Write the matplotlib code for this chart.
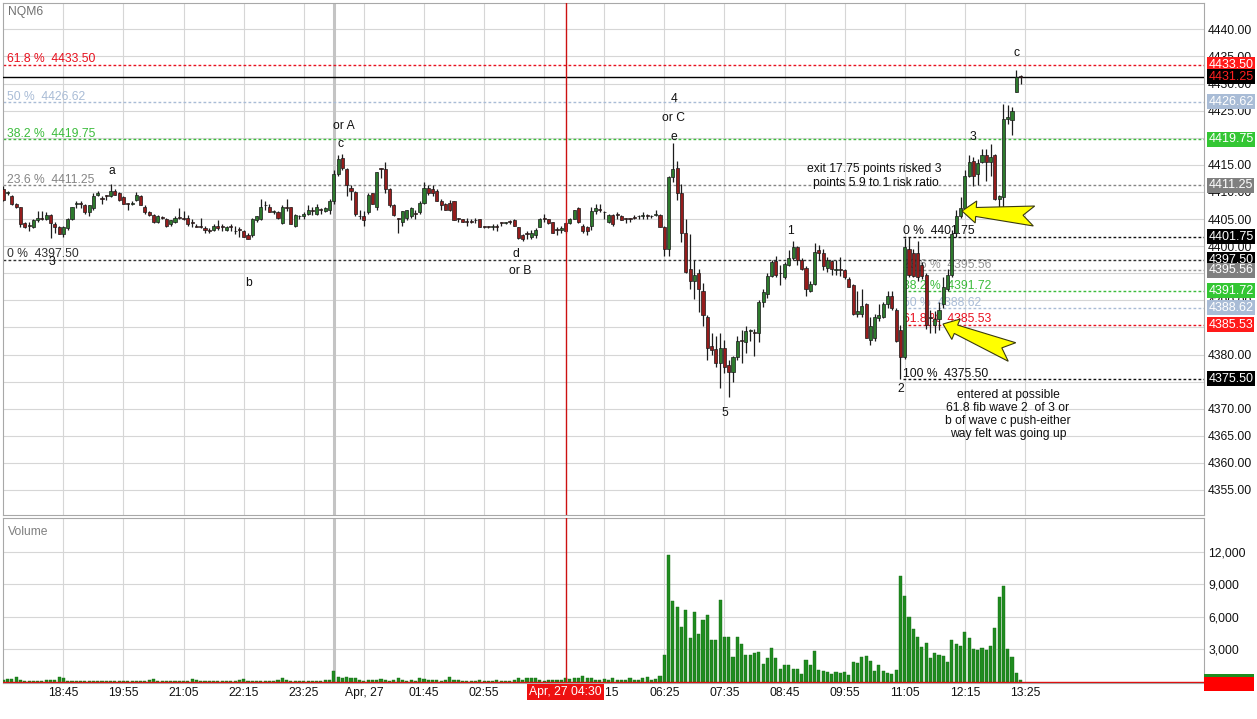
import matplotlib
matplotlib.use("Agg")
import matplotlib.pyplot as plt
from matplotlib.patches import Polygon, Rectangle
import numpy as np

plt.rcParams['font.family'] = ['Liberation Sans', 'DejaVu Sans']

# ---------------- data (5-minute bars, NQM6, 17:35 -> 13:20) ----------------
opens = [
 4410.5, 4409.75, 4409.25, 4407.75, 4407.25, 4404.25, 4403.75, 4403.5, 4404.75, 4405,
 4405, 4405.75, 4404, 4403.5, 4402.25, 4403.25, 4405, 4407.75, 4408, 4407.5,
 4406.25, 4407, 4409.5, 4408.75, 4409.25, 4409.25, 4410.25, 4409.75, 4409, 4407.75,
 4407.75, 4408.5, 4409.25, 4407.25, 4406.25, 4405.75, 4404.5, 4405.25, 4405, 4404,
 4404.5, 4405.25, 4405, 4405.25, 4404.25, 4403.75, 4403.5, 4403.25, 4403, 4403,
 4403.75, 4403.5, 4403, 4403.5, 4402.75, 4403, 4402.75, 4402, 4402, 4404.75,
 4405, 4407.5, 4407.25, 4406.25, 4406.25, 4404.25, 4407.25, 4407.25, 4403.75, 4405.5,
 4405.5, 4406, 4406.5, 4406, 4406.75, 4406.5, 4406.75, 4408.25, 4413.25, 4416.25,
 4414.25, 4410.75, 4410, 4405.5, 4405.5, 4406.25, 4409.75, 4407.25, 4414.25, 4414.25,
 4410.5, 4407.5, 4405, 4404.5, 4405.25, 4405.5, 4406, 4406.25, 4408, 4410.75,
 4410.5, 4410.25, 4408.25, 4407.75, 4408, 4408.25, 4405, 4405, 4404.5, 4404.5,
 4404.75, 4405, 4403.5, 4403.5, 4403.5, 4403.5, 4404.25, 4404.25, 4404.5, 4404.75,
 4403.5, 4402, 4402.25, 4401.75, 4402, 4403.5, 4405, 4405, 4404.5, 4403,
 4403, 4404.25, 4404.25, 4405, 4407, 4403.75, 4403.5, 4403.75, 4406.5, 4406.75,
 4406.25, 4404.5, 4405.75, 4405.75, 4405.5, 4405, 4405, 4405.25, 4405.5, 4405.5,
 4405.75, 4405.5, 4405.75, 4405.75, 4403.5, 4399.5, 4412.75, 4414.5, 4409.75, 4402.5,
 4395.75, 4393.5, 4395, 4391.75, 4387, 4381.5, 4381, 4378.5, 4381.25, 4378,
 4376.75, 4379.5, 4382.5, 4382.25, 4384.25, 4384, 4384, 4389.75, 4391.25, 4394.5,
 4397.25, 4395, 4394.25, 4396.5, 4397.75, 4399.75, 4397.5, 4396, 4391.75, 4393,
 4399.25, 4398.75, 4396, 4397.25, 4395.5, 4395.75, 4395.5, 4394, 4392.75, 4387.5,
 4387.5, 4389.25, 4382.75, 4383, 4386.75, 4387, 4389.25, 4390.75, 4388.25, 4384.5,
 4379.5, 4399.5, 4398.75, 4398.75, 4396.5, 4394.75, 4386.75, 4385.5, 4386.5, 4389.25,
 4392, 4394.75, 4402.5, 4405.5, 4407, 4413, 4415.75, 4413.25, 4415.5, 4416.75,
 4415.5, 4416.75, 4408.75, 4409, 4423.5, 4423.25, 4428.5, 4431.25,
]
highs = [
 4411, 4410.25, 4409.5, 4408, 4407.25, 4404.5, 4404.5, 4405, 4406.5, 4406.5,
 4406.25, 4406, 4404.5, 4403.75, 4403.75, 4405.25, 4407.25, 4408.25, 4408.25, 4407.75,
 4407.5, 4409.75, 4410.25, 4409.25, 4409.5, 4411.5, 4410.5, 4410, 4409.25, 4408,
 4408.25, 4410, 4409.5, 4407.5, 4406.5, 4406, 4405.75, 4405.5, 4405.25, 4404.75,
 4405.5, 4407, 4406.5, 4405.75, 4405, 4404, 4405.25, 4403.75, 4403.25, 4404,
 4404.75, 4404, 4403.75, 4404, 4403.75, 4403.5, 4403, 4402.5, 4405.25, 4405.5,
 4408.75, 4408.25, 4407.75, 4406.75, 4406.5, 4407.5, 4408.75, 4407.25, 4406, 4405.75,
 4406.25, 4407.5, 4407.25, 4407.75, 4407, 4407.25, 4408.75, 4414, 4416.75, 4417,
 4414.5, 4411.25, 4410.25, 4406.75, 4406.5, 4409.75, 4409.75, 4413.75, 4414.5, 4415.5,
 4410.75, 4407.75, 4405.25, 4406.5, 4406.75, 4407.25, 4406.75, 4408.25, 4411.75, 4411.25,
 4411.25, 4410.5, 4408.75, 4408, 4408.5, 4408.25, 4405.25, 4405, 4405.25, 4405,
 4405.25, 4405, 4403.75, 4403.75, 4404, 4404, 4404.5, 4404.5, 4404.75, 4405,
 4403.5, 4402.25, 4402.75, 4403, 4403.25, 4405.25, 4406, 4405, 4404.5, 4403.5,
 4403.75, 4404.5, 4405.25, 4406.75, 4407.25, 4404, 4403.75, 4407.25, 4407.75, 4407.75,
 4406.5, 4406, 4406, 4406.25, 4405.75, 4405.25, 4405.25, 4405.75, 4405.75, 4406.25,
 4406, 4405.75, 4406.75, 4406, 4403.75, 4413, 4419, 4415.75, 4411.5, 4405,
 4402.25, 4397.5, 4395.75, 4393.25, 4387.25, 4384, 4383.5, 4384, 4382.75, 4379,
 4379.75, 4383.5, 4384.5, 4385.25, 4384.75, 4384.75, 4390, 4392, 4395, 4397.5,
 4398.25, 4396.5, 4397, 4399.25, 4401, 4400, 4397.75, 4396.25, 4393.5, 4400.5,
 4400.25, 4399.5, 4398, 4397.5, 4397.5, 4398, 4395.75, 4394.25, 4393, 4391.75,
 4392, 4389.5, 4387, 4387.5, 4389.25, 4389.75, 4391.75, 4391.75, 4388.5, 4385.5,
 4401.5, 4401.75, 4399.5, 4401, 4397, 4395, 4388.25, 4388, 4389.75, 4394.25,
 4395.75, 4403, 4406.75, 4409, 4414, 4416.75, 4416.5, 4416, 4418, 4418,
 4418.75, 4417, 4409.5, 4426.25, 4426, 4425.75, 4432.5, 4431.5,
]
lows = [
 4408.25, 4409.5, 4407.5, 4407, 4403.5, 4403.25, 4402.75, 4403.25, 4404.5, 4404.75,
 4404.75, 4401.5, 4402.5, 4402.25, 4401.75, 4403, 4404.75, 4407, 4407, 4406,
 4405.5, 4406.75, 4409.25, 4407.75, 4408.5, 4409, 4409.5, 4408.25, 4407.75, 4406.75,
 4407.5, 4408.25, 4407.5, 4406, 4405.5, 4404.25, 4404.25, 4405, 4403.5, 4403.75,
 4404.25, 4405, 4404.75, 4403.75, 4403.5, 4403.5, 4403.25, 4402.5, 4402.5, 4402.75,
 4403, 4402.75, 4402.75, 4402.75, 4402.25, 4401.75, 4401.75, 4401.25, 4401.75, 4404.5,
 4404.75, 4406.75, 4406.25, 4406, 4405, 4404, 4406.5, 4404, 4403.5, 4405,
 4405, 4405.75, 4405.75, 4405.75, 4406, 4406.25, 4406, 4407.75, 4413, 4414,
 4409.25, 4408.5, 4405.5, 4405, 4403.75, 4406, 4407.75, 4406.75, 4412.5, 4409.75,
 4407.25, 4405.5, 4402.5, 4403.75, 4404.75, 4405.25, 4405, 4406, 4407.75, 4409.5,
 4409.25, 4408.25, 4406.75, 4406.75, 4406.5, 4404.75, 4404.5, 4404.5, 4403.75, 4404.25,
 4404.25, 4403.5, 4403.25, 4403.25, 4403, 4402.75, 4403.75, 4404, 4404, 4403.75,
 4401.25, 4401, 4401.25, 4401.25, 4401.5, 4403.5, 4404.5, 4404, 4402.5, 4402,
 4402.5, 4402.5, 4404, 4405, 4404.25, 4402.5, 4402, 4403, 4406, 4406.25,
 4405, 4404.25, 4403.75, 4405, 4404.75, 4404.25, 4404.5, 4405, 4405, 4405,
 4405, 4405.25, 4405.5, 4403.5, 4398.25, 4398.25, 4411.75, 4408.5, 4400.75, 4395,
 4392, 4390.25, 4387.75, 4385.25, 4379, 4380, 4377.75, 4373.75, 4376.5, 4372.25,
 4375, 4379, 4378.5, 4380.25, 4382.5, 4379.75, 4382.25, 4388.75, 4390.5, 4394.25,
 4394.25, 4392.75, 4394, 4396.25, 4397.5, 4396.5, 4395.5, 4390.75, 4391.5, 4392.75,
 4397.5, 4395.5, 4395.25, 4394.75, 4394.75, 4394.5, 4394, 4392.5, 4387.25, 4387,
 4387, 4383, 4381.75, 4382.5, 4386.25, 4386.75, 4388.5, 4388.25, 4382.25, 4375.5,
 4379.25, 4394.25, 4394.25, 4393.5, 4394, 4384.75, 4384, 4384, 4384.5, 4388.5,
 4391.75, 4394.25, 4401.75, 4405.25, 4406.75, 4412.75, 4411, 4411.25, 4415.25, 4412,
 4413, 4408.5, 4406.75, 4406.75, 4422.5, 4420.5, 4428.5, 4430,
]
closes = [
 4408.5, 4410, 4407.75, 4407.25, 4404, 4403.5, 4403.75, 4404.75, 4405.25, 4405,
 4405.75, 4404.25, 4403.5, 4402.25, 4403.5, 4405, 4407.25, 4408, 4407.75, 4406.25,
 4407.5, 4409.25, 4409.75, 4408.75, 4409.25, 4410.25, 4409.5, 4408.5, 4407.75, 4407.75,
 4408, 4409.5, 4407.5, 4406.25, 4405.75, 4404.5, 4405.5, 4405.25, 4403.75, 4404.75,
 4405.25, 4405.25, 4405, 4404, 4404.25, 4403.5, 4403.5, 4403, 4402.75, 4403.75,
 4403.25, 4403.5, 4403.5, 4403.5, 4402.75, 4403, 4401.75, 4401.25, 4405, 4405.5,
 4407.25, 4407.5, 4406.25, 4406.5, 4405.25, 4407.25, 4407, 4404, 4405.75, 4405.5,
 4406, 4406.75, 4406.5, 4407.25, 4406.75, 4407, 4408.25, 4413.25, 4416, 4414.5,
 4411.25, 4410.25, 4406, 4405.5, 4404.75, 4409.5, 4407.75, 4413.75, 4414.25, 4410.5,
 4407.5, 4405.75, 4405, 4406.5, 4406.75, 4407, 4406, 4408, 4410.75, 4409.75,
 4409.75, 4408.25, 4407.5, 4406.75, 4406.75, 4404.75, 4405, 4404.5, 4404.5, 4404.5,
 4404.75, 4403.5, 4403.5, 4403.5, 4403.75, 4403.5, 4404.25, 4404.5, 4404.5, 4403.75,
 4401.5, 4401.25, 4402.25, 4402.5, 4403, 4405, 4405, 4404.25, 4402.5, 4403,
 4403.25, 4402.75, 4405, 4406.75, 4404.5, 4402.75, 4402.75, 4406.5, 4407, 4406.75,
 4406.25, 4405.75, 4404, 4405.75, 4404.75, 4405, 4405, 4405.25, 4405.5, 4405.75,
 4405.5, 4405.5, 4406, 4403.5, 4399.5, 4412.75, 4414.25, 4409.75, 4402.5, 4395.25,
 4393.5, 4394.75, 4392, 4387.25, 4381.25, 4380.75, 4378.5, 4381.25, 4377.75, 4376.75,
 4379.5, 4382.5, 4382.5, 4384.25, 4384.5, 4384, 4389.75, 4391.5, 4394.5, 4397,
 4394.75, 4395, 4396.75, 4397.75, 4399.75, 4397.5, 4395.75, 4392, 4393, 4399,
 4398.75, 4396.25, 4397.5, 4395.75, 4395.75, 4395.5, 4394.25, 4392.5, 4387.5, 4388,
 4389, 4383, 4385.25, 4387, 4387.25, 4389.25, 4390.75, 4388.5, 4382.5, 4379.5,
 4399.75, 4394.75, 4394.5, 4394.25, 4394.5, 4385.5, 4386.75, 4386.5, 4388.25, 4392.5,
 4394.75, 4402.25, 4405.5, 4407, 4413, 4415.5, 4413, 4415.25, 4416.75, 4415.5,
 4416.5, 4408.75, 4409.25, 4423.5, 4423.75, 4425, 4431.25, 4431.25,
]
volumes = [
 150, 250, 250, 400, 150, 100, 100, 100, 100, 100,
 150, 150, 200, 400, 350, 100, 100, 100, 100, 100,
 100, 100, 100, 100, 100, 100, 100, 100, 100, 100,
 100, 100, 100, 100, 150, 250, 100, 100, 100, 100,
 100, 100, 100, 100, 250, 150, 100, 100, 100, 100,
 100, 100, 100, 100, 100, 150, 250, 100, 100, 100,
 100, 100, 100, 100, 150, 300, 150, 100, 100, 100,
 100, 100, 100, 100, 100, 150, 200, 950, 450, 300,
 450, 300, 300, 150, 100, 150, 150, 200, 250, 150,
 100, 150, 300, 150, 100, 150, 100, 350, 250, 200,
 150, 150, 100, 150, 450, 200, 150, 100, 100, 100,
 100, 150, 100, 100, 100, 150, 100, 100, 100, 150,
 300, 200, 350, 350, 300, 150, 100, 150, 150, 200,
 150, 300, 250, 350, 300, 550, 300, 300, 150, 200,
 250, 150, 300, 150, 150, 200, 300, 200, 200, 300,
 400, 200, 250, 500, 2500, 11700, 7450, 6900, 5100, 6600,
 4000, 6450, 4400, 5700, 6200, 3850, 3900, 7600, 4100, 4100,
 2300, 4100, 3500, 2500, 2450, 2650, 2750, 1650, 2200, 3100,
 2200, 1200, 1550, 1500, 1200, 1200, 700, 2050, 1500, 2800,
 1050, 1000, 900, 750, 900, 800, 900, 650, 1800, 1700,
 2300, 2350, 1900, 950, 1500, 1000, 800, 750, 1100, 9750,
 7950, 6000, 4850, 4100, 3250, 3550, 2200, 2700, 2500, 2400,
 1800, 3900, 3500, 3350, 4600, 4000, 3000, 2900, 3150, 2900,
 3350, 5000, 7800, 8850, 3000, 2250, 800, 150,
]
time_tick_idx = [14, 28, 42, 56, 70, 84, 98, 112, 126, 140, 154, 168, 182, 196, 210, 224, 238]
time_tick_labels = ['18:45', '19:55', '21:05', '22:15', '23:25', 'Apr, 27', '01:45', '02:55',
                    '04:05', '05:15', '06:25', '07:35', '08:45', '09:55', '11:05', '12:15', '13:25']
price_ticks = [4355, 4360, 4365, 4370, 4375, 4380, 4385, 4390, 4395, 4400,
               4405, 4410, 4415, 4420, 4425, 4430, 4435, 4440]
vol_ticks = [3000, 6000, 9000, 12000]
vol_tick_labels = ['3,000', '6,000', '9,000', '12,000']

# Fibonacci set 1 (full width) and set 2 (from wave-2 swing)
fib1_levels = ['61.8 %', '50 %', '38.2 %', '23.6 %', '0 %']
fib1_values = [4433.50, 4426.62, 4419.75, 4411.25, 4397.50]
fib2_levels = ['0 %', '23.6 %', '38.2 %', '50 %', '61.8 %', '100 %']
fib2_values = [4401.75, 4395.56, 4391.72, 4388.62, 4385.53, 4375.50]
last_price = 4431.25

# ---------------- styling ----------------
W, H = 1257, 719
RED = '#e8101e'
BLUE = '#a9bcd6'
GREEN_F = '#3cbc3c'
GRAY_F = '#858585'
DARK_F = '#303030'
fib1_colors = [RED, BLUE, GREEN_F, GRAY_F, DARK_F]
fib2_colors = ['#111111', '#959595', GREEN_F, BLUE, RED, '#111111']
fib1_box = [('#ff1a1a', 'white'), (BLUE, 'white'), ('#33c633', 'white'), ('#7f7f7f', 'white'), ('#000000', 'white')]
fib2_box = [('#000000', 'white'), ('#7f7f7f', 'white'), ('#33c633', 'white'), (BLUE, 'white'), ('#ff1a1a', 'white'), ('#000000', 'white')]
FS = 8.7
GRID = '#d6d6d6'
SPINE = '#a8a8a8'

fig = plt.figure(figsize=(W / 100, H / 100), dpi=100)
fig.patch.set_facecolor('white')

def fx(px):
    return px / W

def fy(py):
    return 1 - py / H

x0_px, bar_px = 3.3, 4.2924
xmin = (3 - x0_px) / bar_px
xmax = (1204 - x0_px) / bar_px

axp = fig.add_axes([fx(3), fy(515), fx(1204) - fx(3), fy(3) - fy(515)])
axv = fig.add_axes([fx(3), fy(683), fx(1204) - fx(3), fy(518) - fy(683)], sharex=axp)

o = np.array(opens); h = np.array(highs); l = np.array(lows); c = np.array(closes)
x = np.arange(len(o))
up = c > o
body_bot = np.minimum(o, c)
body_h = np.maximum(np.abs(c - o), 0.12)
cols = np.where(up, '#2d7a2d', '#951c1c')

axp.vlines(x, l, h, color='#1c1c1c', lw=0.9, zorder=4)
axp.bar(x, body_h, bottom=body_bot, width=0.72, color=cols, edgecolor='#1a1a1a',
        linewidth=0.5, zorder=5)

axv.bar(np.arange(len(volumes)), volumes, width=0.72, color='#1f8c1f', edgecolor='#176a17',
        linewidth=0.3, zorder=3)

axp.set_xlim(xmin, xmax)
axp.set_ylim(4440 - (515 - 29.3) / 5.42, 4440 + (29.3 - 3) / 5.42)
axv.set_ylim(-120, 15150)

for ax in (axp, axv):
    ax.set_xticks(time_tick_idx)
    ax.grid(True, color=GRID, lw=0.8)
    ax.set_axisbelow(True)
    for s in ax.spines.values():
        s.set_color(SPINE)
        s.set_linewidth(0.8)
    ax.yaxis.tick_right()
    ax.tick_params(axis='y', length=0, pad=3, labelsize=FS, labelcolor='#111111')
    ax.axvline(77, color='#c4c4c4', lw=2.2, zorder=1)
    ax.axvline(131, color='#cc1111', lw=1.0, zorder=6)

axp.tick_params(axis='x', length=0, labelbottom=False)
axv.set_xticklabels(time_tick_labels)
axv.tick_params(axis='x', length=0, pad=3, labelsize=FS, labelcolor='#111111')
axp.set_yticks(price_ticks)
axp.set_yticklabels([f'{v:.2f}' for v in price_ticks])
axv.set_yticks(vol_ticks)
axv.set_yticklabels(vol_tick_labels)
axv.axhline(0, color='#dd1111', lw=1.0, zorder=6)

dots = (0, (2, 1.6))
ytr = axp.get_yaxis_transform()
# fib set 1
for lab, val, col, (bg, tc) in zip(fib1_levels, fib1_values, fib1_colors, fib1_box):
    axp.axhline(val, color=col, lw=1, ls=dots, zorder=2)
    axp.text(0.0033, val + 0.4, f'{lab}  {val:.2f}', transform=ytr, color=col,
             fontsize=FS, ha='left', va='baseline', zorder=2)
# current price line
axp.axhline(last_price, color='black', lw=1.0, zorder=3)
# fib set 2
x_fib2 = (903 - x0_px) / bar_px
for lab, val, col in zip(fib2_levels, fib2_values, fib2_colors):
    axp.hlines(val, x_fib2, xmax, color=col, lw=1, linestyles=dots, zorder=2)
    axp.text(x_fib2, val + 0.4, f'{lab}  {val:.2f}', color=col, fontsize=FS,
             ha='left', va='baseline', zorder=2)

# right-hand price boxes
boxes = list(zip(fib1_values[:4], fib1_box[:4])) + [(last_price, ('#000000', '#ff2020'))]
boxes += [(fib2_values[0], fib2_box[0]), (fib1_values[4], fib1_box[4])]
boxes += list(zip(fib2_values[1:], fib2_box[1:]))
for val, (bg, tc) in boxes:
    axp.text(1.0035, val, f'{val:.2f}', transform=ytr, color=tc, fontsize=FS + 0.3,
             ha='left', va='center', clip_on=False, zorder=7,
             bbox=dict(boxstyle='square,pad=0.12', fc=bg, ec='none'))

# ---------------- overlay annotations in pixel space ----------------
ov = fig.add_axes([0, 0, 1, 1], zorder=10)
ov.set_xlim(0, W)
ov.set_ylim(H, 0)
ov.axis('off')
ov.patch.set_alpha(0)

ov.text(8, 12, 'NQM6', color='#707070', fontsize=FS, ha='left', va='center')
ov.text(8, 532, 'Volume', color='#808080', fontsize=FS, ha='left', va='center')

labels = [
    ('a', 112, 171), ('3', 52, 262), ('or A', 344, 126), ('c', 340, 144),
    ('b', 249, 283), ('d', 516, 254), ('or B', 520, 271), ('4', 674, 99),
    ('or C', 674, 118), ('e', 674, 137), ('1', 790, 231), ('5', 725, 413),
    ('2', 901, 389), ('3', 973, 137), ('c', 1017, 53),
    ('exit 17.75 points risked 3', 874, 169), ('points 5.9 to 1 risk ratio', 876, 183),
    ('entered at possible', 1008, 395), ('61.8 fib wave 2  of 3 or', 1008, 408),
    ('b of wave c push-either', 1008, 421), ('way felt was going up', 1008, 434),
]
for t, px, py in labels:
    ov.text(px, py, t, color='#111111', fontsize=FS, ha='center', va='center')

def block_arrow(tip, tail, head_len=14, head_hw=11, shaft_hw=4.5, tail_hw=10, notch=11):
    tip = np.array(tip, float); tail = np.array(tail, float)
    d = tail - tip
    L = np.hypot(*d)
    u = d / L
    n = np.array([-u[1], u[0]])
    pts_local = [(0, 0), (head_len, head_hw), (head_len, shaft_hw), (L, tail_hw),
                 (L - notch, 0), (L, -tail_hw), (head_len, -shaft_hw), (head_len, -head_hw)]
    return [tip + a * u + b * n for a, b in pts_local]

for tip, tail in [((962, 211), (1034, 216)), ((943, 324), (1012, 352))]:
    ov.add_patch(Polygon(block_arrow(tip, tail), closed=True, fc='#ffff00',
                         ec='#3a3a10', lw=0.8, zorder=12))

# crosshair labels
ov.add_patch(Rectangle((527, 684), 77, 16, fc='#ee1111', ec='none', zorder=12))
ov.text(565.5, 692, 'Apr, 27 04:30', color='white', fontsize=FS, ha='center', va='center',
        zorder=13)
ov.add_patch(Rectangle((1204, 674), 50, 3.5, fc='#1f8c1f', ec='none', zorder=12))
ov.add_patch(Rectangle((1204, 677), 50, 14, fc='#ff0000', ec='none', zorder=12))

fig.savefig('out.png', dpi=100, facecolor='white')
